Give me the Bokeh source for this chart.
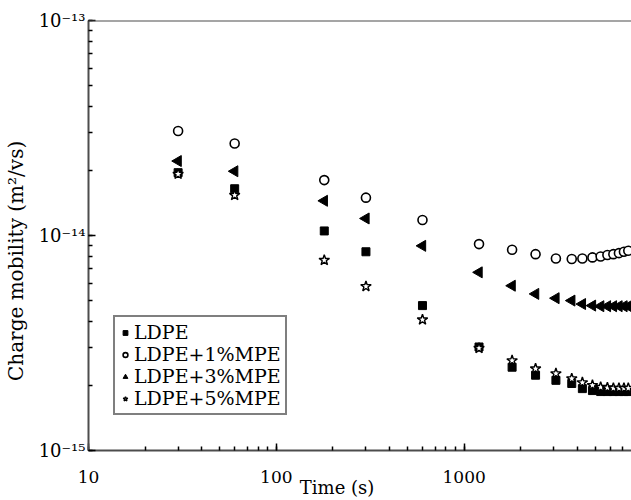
import math
from bokeh.plotting import figure
from bokeh.models import (Legend, LegendItem, CustomJSTickFormatter,
                          Range1d, Span)
from bokeh.embed import file_html
from bokeh.resources import INLINE

# ---- data ----
time_s = [30, 60, 180, 300, 600, 1200, 1800, 2400, 3080, 3740, 4260, 4820,
          5330, 5790, 6230, 6670, 7090, 7480]
ldpe = [1.96e-14, 1.65e-14, 1.05e-14, 8.40e-15, 4.72e-15, 3.03e-15, 2.44e-15,
        2.24e-15, 2.12e-15, 2.05e-15, 1.94e-15, 1.90e-15, 1.88e-15, 1.88e-15,
        1.88e-15, 1.88e-15, 1.88e-15, 1.88e-15]
ldpe_1 = [3.06e-14, 2.68e-14, 1.81e-14, 1.50e-14, 1.18e-14, 9.12e-15, 8.58e-15,
          8.19e-15, 7.82e-15, 7.77e-15, 7.82e-15, 7.91e-15, 7.99e-15, 8.11e-15,
          8.19e-15, 8.28e-15, 8.40e-15, 8.49e-15]
ldpe_3 = [2.22e-14, 1.99e-14, 1.45e-14, 1.20e-14, 8.95e-15, 6.74e-15, 5.84e-15,
          5.35e-15, 5.11e-15, 4.98e-15, 4.80e-15, 4.72e-15, 4.69e-15, 4.69e-15,
          4.69e-15, 4.69e-15, 4.69e-15, 4.69e-15]
ldpe_5 = [1.93e-14, 1.54e-14, 7.68e-15, 5.80e-15, 4.06e-15, 2.99e-15, 2.62e-15,
          2.40e-15, 2.28e-15, 2.16e-15, 2.07e-15, 2.01e-15, 1.97e-15, 1.96e-15,
          1.95e-15, 1.95e-15, 1.95e-15, 1.95e-15]
series_labels = ["LDPE", "LDPE+1%MPE", "LDPE+3%MPE", "LDPE+5%MPE"]
x_label = "Time (s)" + "\u00a0" * 8
y_label = "Charge mobility  (m\u00b2/vs)" + "\u00a0" * 7

FONT = "DejaVu Serif"
AX = "#4d4d4d"

p = figure(width=631, height=500, x_axis_type="log", y_axis_type="log",
           x_range=Range1d(10, 7780), y_range=Range1d(1e-15, 1e-13),
           output_backend="svg", toolbar_location=None,
           min_border_left=86, min_border_right=0, min_border_top=20,
           min_border_bottom=50)
p.background_fill_color = "white"
p.border_fill_color = "white"
p.outline_line_color = None
p.grid.visible = False

sup = CustomJSTickFormatter(code="""
const e = Math.round(Math.log10(tick));
const m = {'-':'\u207b','0':'\u2070','1':'\u00b9','2':'\u00b2','3':'\u00b3','4':'\u2074','5':'\u2075','6':'\u2076','7':'\u2077','8':'\u2078','9':'\u2079'};
return '10' + String(e).split('').map(c => m[c]).join('');
""")
xfmt = CustomJSTickFormatter(code="return String(Math.round(tick));")

for ax in (p.xaxis[0], p.yaxis[0]):
    ax.axis_line_color = AX
    ax.axis_line_width = 2
    ax.major_tick_line_color = "black"
    ax.minor_tick_line_color = "black"
    ax.major_tick_in = 7
    ax.major_tick_out = 0
    ax.minor_tick_in = 4
    ax.minor_tick_out = 0
    ax.major_tick_line_width = 1.5
    ax.minor_tick_line_width = 1.5
    ax.major_label_text_font = FONT
    ax.major_label_text_color = "black"
    ax.axis_label_text_font = FONT
    ax.axis_label_text_font_style = "normal"
    ax.axis_label_text_color = "black"

p.xaxis[0].formatter = xfmt
p.xaxis[0].major_label_text_font_size = "17px"
p.xaxis[0].major_label_standoff = 20
p.xaxis[0].axis_label = x_label
p.xaxis[0].axis_label_text_font_size = "18px"
p.xaxis[0].axis_label_standoff = -9

p.yaxis[0].formatter = sup
p.yaxis[0].major_label_text_font_size = "18px"
p.yaxis[0].major_label_standoff = 3
p.yaxis[0].axis_label = y_label
p.yaxis[0].axis_label_text_font_size = "20px"
p.yaxis[0].axis_label_standoff = 8

top_line = Span(location=1e-13, dimension="width", line_color=AX, line_width=2)
p.add_layout(top_line)

r_sq = p.scatter(time_s, ldpe, marker="square", size=8, fill_color="black",
                 line_color="black")
r_ci = p.scatter(time_s, ldpe_1, marker="circle", size=9, fill_color="white",
                 line_color="black", line_width=1.6)
r_tr = p.scatter(time_s, ldpe_3, marker="triangle", size=11, angle=math.pi / 2,
                 fill_color="black", line_color="black")
r_st = p.scatter(time_s, ldpe_5, marker="star", size=11, fill_color="white",
                 line_color="black", line_width=1.4)

legend = Legend(items=[LegendItem(label=series_labels[0], renderers=[r_sq]),
                       LegendItem(label=series_labels[1], renderers=[r_ci]),
                       LegendItem(label=series_labels[2], renderers=[r_tr]),
                       LegendItem(label=series_labels[3], renderers=[r_st])],
                location=(25, 35), orientation="vertical")
legend.label_text_font = FONT
legend.label_text_font_size = "19px"
legend.label_text_color = "black"
legend.glyph_width = 12
legend.glyph_height = 21
legend.label_height = 21
legend.label_standoff = 3
legend.spacing = 0
legend.padding = 4
legend.margin = 0
legend.border_line_color = "black"
legend.border_line_width = 2
legend.background_fill_color = "white"
legend.background_fill_alpha = 1
p.add_layout(legend, "center")

open("out.html", "w").write(file_html(p, INLINE))
